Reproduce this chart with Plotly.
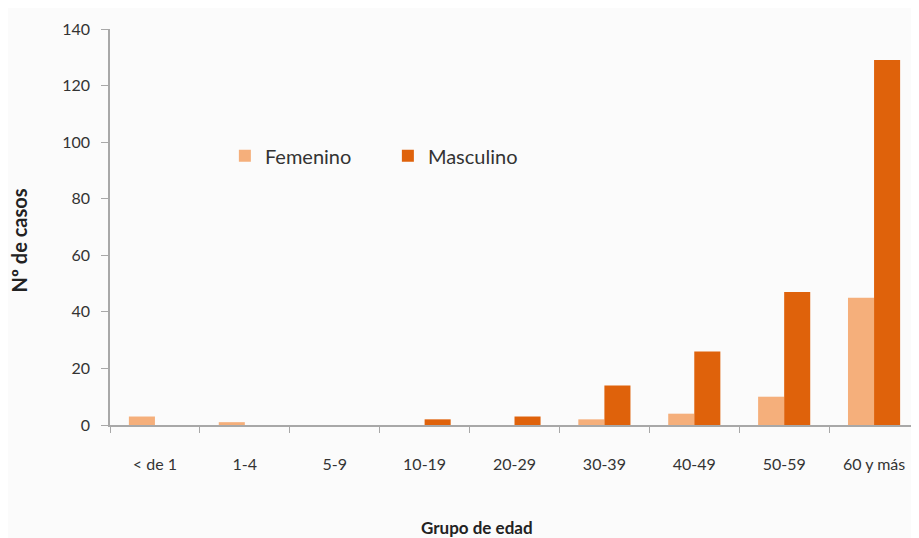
import plotly.graph_objects as go

categories = ["< de 1", "1-4", "5-9", "10-19", "20-29", "30-39", "40-49", "50-59", "60 y más"]
femenino = [3, 1, 0, 0, 0, 2, 4, 10, 45]
masculino = [0, 0, 0, 2, 3, 14, 26, 47, 129]
y_ticks = [0, 20, 40, 60, 80, 100, 120, 140]

FONT = "Lato"
fig = go.Figure()
fig.add_trace(go.Bar(name="Femenino", x=categories, y=femenino, marker_color="#F5AF7B", marker_line_width=0))
fig.add_trace(go.Bar(name="Masculino", x=categories, y=masculino, marker_color="#DF620B", marker_line_width=0))

fig.update_layout(
    width=911, height=530,
    margin=dict(l=102, r=0, t=21, b=113),
    paper_bgcolor="#FBFBFB", plot_bgcolor="#FBFBFB",
    barmode="group", bargap=0.42, bargroupgap=0,
    font=dict(family=FONT, size=16, color="#333333"),
    showlegend=True,
    legend=dict(orientation="h", x=0.142, y=0.68, xanchor="left", yanchor="middle",
                bgcolor="rgba(0,0,0,0)", font=dict(size=20, color="#333333"),
                entrywidth=118, entrywidthmode="pixels"),
)
fig.update_xaxes(
    showline=True, linecolor="#A8A8A8", linewidth=1.5,
    ticks="outside", tickson="boundaries", ticklen=6, tickcolor="#A8A8A8",
    showgrid=False, tickfont=dict(size=16), ticklabelstandoff=24,
)
fig.update_yaxes(
    range=[0, 140], tickvals=y_ticks, showline=True, linecolor="#A8A8A8", linewidth=1.5,
    ticks="outside", ticklen=7, tickcolor="#A8A8A8", showgrid=False, zeroline=False,
    tickfont=dict(size=16), ticklabelstandoff=8,
)
fig.add_annotation(text="<b>Nº de casos</b>", xref="paper", yref="paper", x=-0.113, y=0.465,
                   xanchor="center", yanchor="middle",
                   textangle=-90, showarrow=False, font=dict(size=20, color="#222222"))
fig.add_annotation(text="<b>Grupo de edad</b>", xref="paper", yref="paper", x=0.454, y=-0.26,
                   xanchor="center", yanchor="middle",
                   showarrow=False, font=dict(size=17, color="#222222"))
fig.write_html("out.html")
